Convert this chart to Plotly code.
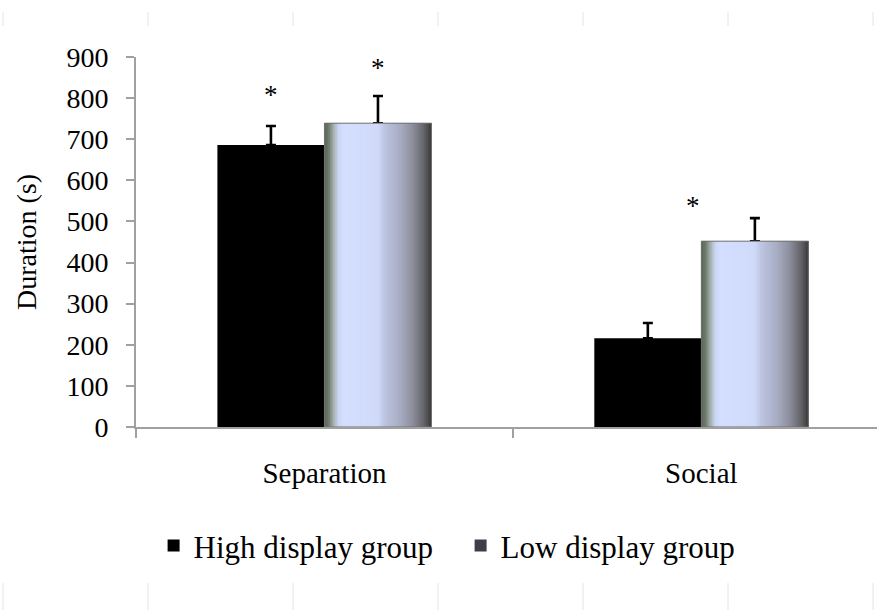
import plotly.graph_objects as go

categories = ["Separation", "Social"]
high_display = [686, 216]
high_err = [46, 37]
low_display = [739, 452]
low_err = [66, 56]
y_ticks = [0, 100, 200, 300, 400, 500, 600, 700, 800, 900]
series_names = ["High display group", "Low display group"]

FONT = "Liberation Serif, Times New Roman, serif"
BAR_W = 0.284
N_STRIPS = 60

# gradient profile for the low-display bars (style only)
stops = [
    (0.00, (0x5a, 0x66, 0x58)),
    (0.04, (0x6e, 0x7a, 0x6c)),
    (0.08, (0xa0, 0xac, 0xa4)),
    (0.13, (0xca, 0xd6, 0xf4)),
    (0.18, (0xd4, 0xde, 0xff)),
    (0.50, (0xd0, 0xda, 0xf8)),
    (0.56, (0xbc, 0xc4, 0xe0)),
    (0.70, (0xa8, 0xae, 0xc4)),
    (0.82, (0x8e, 0x90, 0x9e)),
    (0.92, (0x68, 0x68, 0x6e)),
    (1.00, (0x3c, 0x3c, 0x3c)),
]


def grad(t):
    for (t0, c0), (t1, c1) in zip(stops[:-1], stops[1:]):
        if t0 <= t <= t1:
            f = (t - t0) / (t1 - t0) if t1 > t0 else 0
            c = [round(a + (b - a) * f) for a, b in zip(c0, c1)]
            return "rgb(%d,%d,%d)" % tuple(c)
    return "rgb(60,60,60)"


fig = go.Figure()

fig.add_trace(go.Bar(
    x=categories, y=high_display, name=series_names[0],
    width=BAR_W, offset=-BAR_W,
    marker=dict(color="black", line=dict(width=0)),
    error_y=dict(type="data", symmetric=False, array=high_err,
                 arrayminus=[0] * len(high_err), color="black",
                 thickness=2.6, width=5),
))

fig.add_trace(go.Bar(
    x=categories, y=low_display, name=series_names[1],
    width=BAR_W, offset=0,
    marker=dict(color="#3c3f48", line=dict(width=0)),
    error_y=dict(type="data", symmetric=False, array=low_err,
                 arrayminus=[0] * len(low_err), color="black",
                 thickness=2.6, width=5),
))

sw = BAR_W / N_STRIPS
for i in range(N_STRIPS):
    t = (i + 0.5) / N_STRIPS
    fig.add_trace(go.Bar(
        x=categories, y=low_display, showlegend=False, hoverinfo="skip",
        width=BAR_W - i * sw, offset=i * sw,
        marker=dict(color=grad(t), line=dict(width=0)),
    ))

fig.add_trace(go.Bar(
    x=categories, y=low_display, showlegend=False, hoverinfo="skip",
    width=BAR_W, offset=0,
    marker=dict(color="rgba(0,0,0,0)", line=dict(color="#707070", width=1)),
))

# significance asterisks
for xv, yv in [(-BAR_W / 2, 808), (BAR_W / 2, 873), (0.977, 538)]:
    fig.add_annotation(x=xv, y=yv, xref="x", yref="y", text="*",
                       showarrow=False, font=dict(family=FONT, size=27, color="black"),
                       yanchor="middle")

# faint frame marks at top and bottom
x0px, pw, y0px, ph = 136, 741, 427, 370
for px in [3, 148, 293, 438, 583, 728, 873]:
    xp = (px - x0px) / pw
    for ya, yb in [(12, 26), (583, 610)]:
        fig.add_shape(type="line", xref="paper", yref="paper",
                      x0=xp, x1=xp, y0=(y0px - ya) / ph, y1=(y0px - yb) / ph,
                      line=dict(color="#e2e2ee", width=1))

fig.update_layout(
    width=879, height=610,
    margin=dict(l=136, r=2, t=57, b=183),
    paper_bgcolor="white", plot_bgcolor="white",
    barmode="overlay",
    font=dict(family=FONT, color="black"),
    showlegend=True,
    legend=dict(orientation="h", xref="container", yref="container",
                x=0.524, y=0.105, xanchor="center", yanchor="middle",
                font=dict(family=FONT, size=31, color="black"),
                entrywidth=262, entrywidthmode="pixels",
                itemsizing="constant"),
    xaxis=dict(type="category", range=[-0.5, 1.466], showgrid=False,
               showline=True, linecolor="#a0a0a0", linewidth=2,
               ticks="outside", tickson="boundaries", ticklen=9,
               tickcolor="#a0a0a0", tickwidth=2, automargin=False,
               tickfont=dict(family=FONT, size=29, color="black"),
               ticklabelstandoff=19),
    yaxis=dict(range=[0, 900], tickvals=y_ticks, showgrid=False, zeroline=False,
               showline=True, linecolor="#a0a0a0", linewidth=2,
               ticks="outside", ticklen=8, tickcolor="#a0a0a0", tickwidth=2,
               tickfont=dict(family=FONT, size=28, color="black"),
               ticklabelstandoff=12, automargin=False,
               title=dict(text="Duration (s)", standoff=22,
                          font=dict(family=FONT, size=28, color="black"))),
)

fig.write_html("out.html", config={"displayModeBar": False},
               post_script="document.body.style.margin='0';")
